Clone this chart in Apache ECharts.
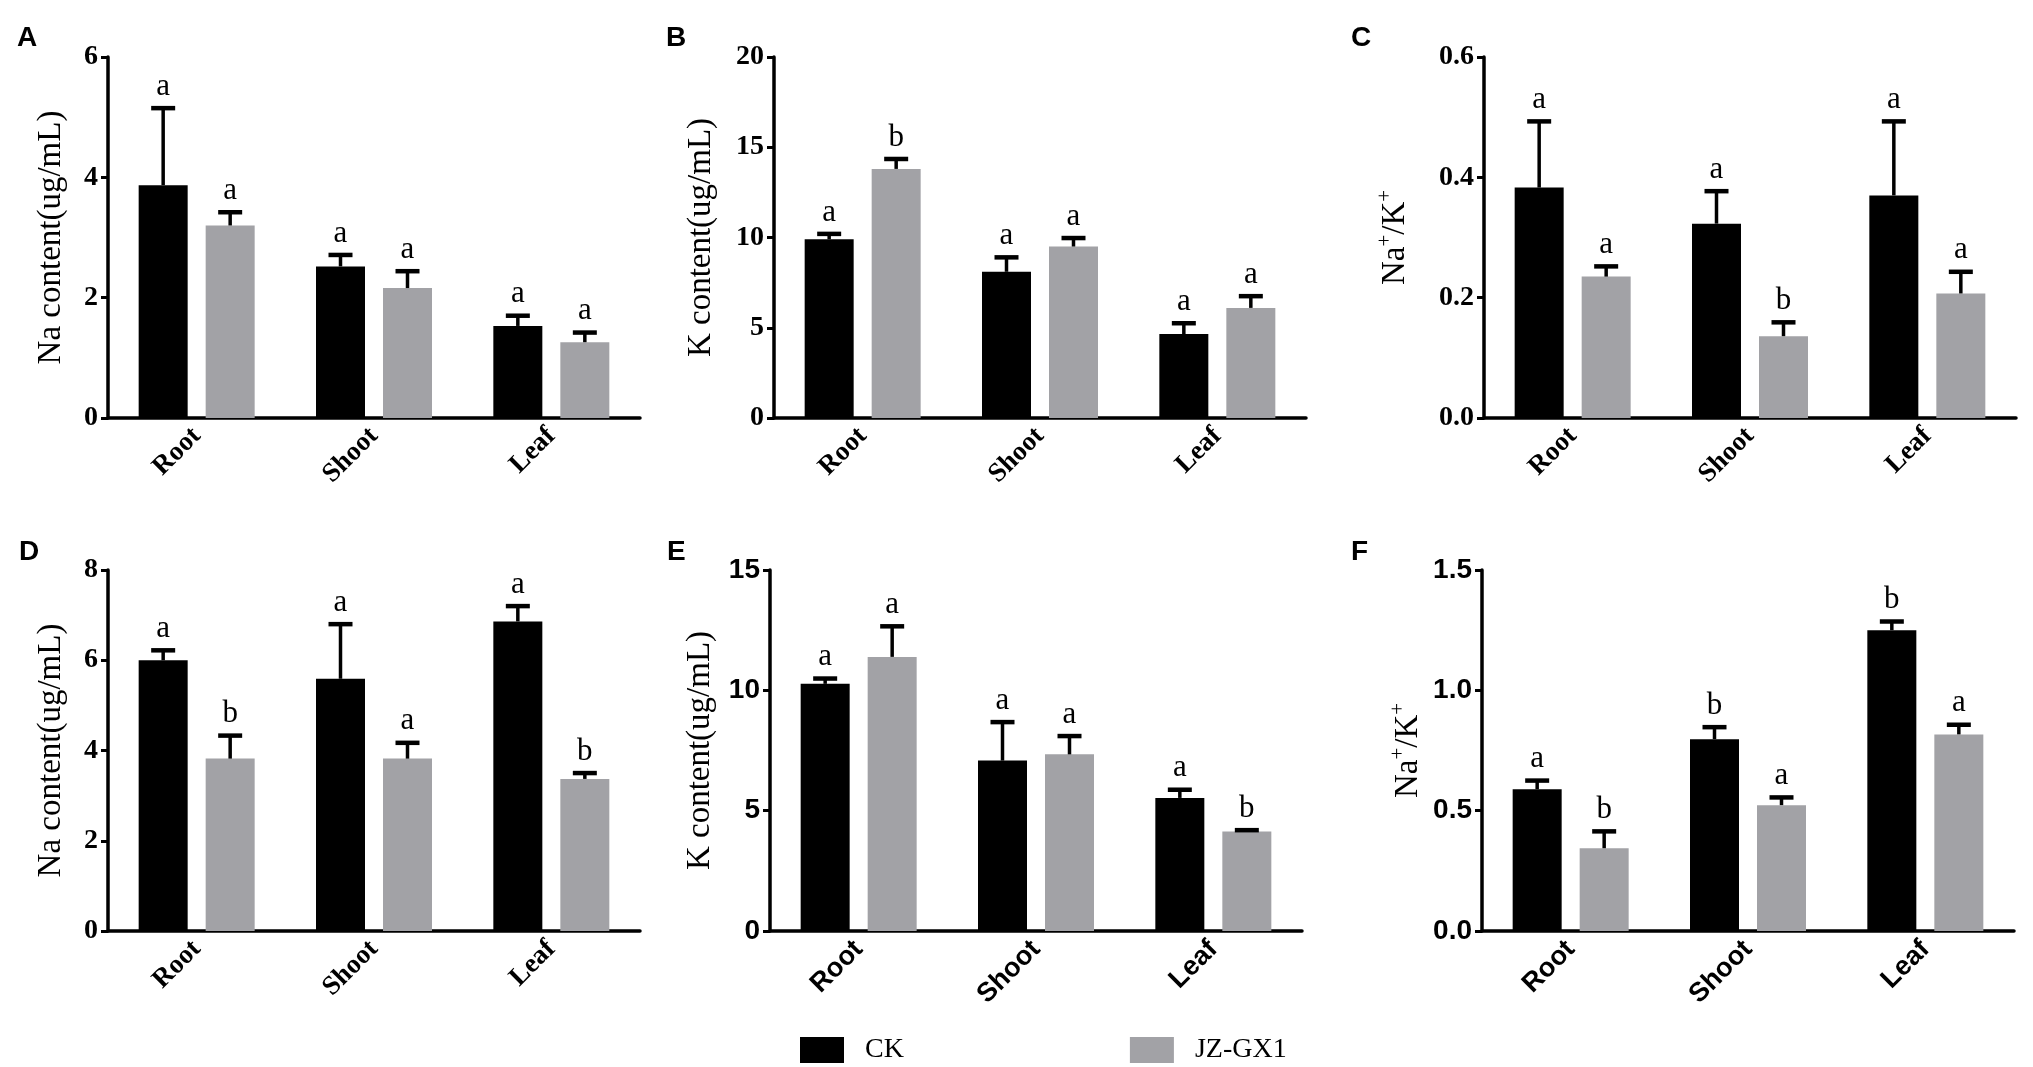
<html>
<head>
<meta charset="utf-8">
<title>Na/K content</title>
<script src="https://cdn.jsdelivr.net/npm/echarts@6/dist/echarts.min.js"></script>
<style>
  html, body { margin: 0; padding: 0; background: #fff; }
  #main { width: 2033px; height: 1067px; }
</style>
</head>
<body>
<div id="main"></div>
<script>
// categories and legend
var categories = ['Root', 'Shoot', 'Leaf'];
var groups = ['CK', 'JZ-GX1'];

// A: Na content, first condition
var aCK = [3.87, 2.52, 1.53];
var aCKsd = [1.28, 0.19, 0.17];
var aJZ = [3.20, 2.16, 1.26];
var aJZsd = [0.22, 0.28, 0.16];
var aCKlet = ['a', 'a', 'a'];
var aJZlet = ['a', 'a', 'a'];

// B: K content
var bCK = [9.9, 8.1, 4.65];
var bCKsd = [0.3, 0.8, 0.6];
var bJZ = [13.8, 9.5, 6.1];
var bJZsd = [0.55, 0.47, 0.65];
var bCKlet = ['a', 'a', 'a'];
var bJZlet = ['b', 'a', 'a'];

// C: Na+/K+
var cCK = [0.383, 0.323, 0.370];
var cCKsd = [0.110, 0.054, 0.123];
var cJZ = [0.235, 0.136, 0.207];
var cJZsd = [0.017, 0.023, 0.036];
var cCKlet = ['a', 'a', 'a'];
var cJZlet = ['a', 'b', 'a'];

// D: Na content, second condition
var dCK = [6.0, 5.59, 6.86];
var dCKsd = [0.22, 1.21, 0.34];
var dJZ = [3.82, 3.82, 3.37];
var dJZsd = [0.51, 0.35, 0.13];
var dCKlet = ['a', 'a', 'a'];
var dJZlet = ['b', 'a', 'b'];

// E: K content
var eCK = [10.27, 7.08, 5.53];
var eCKsd = [0.22, 1.6, 0.34];
var eJZ = [11.39, 7.34, 4.13];
var eJZsd = [1.27, 0.76, 0.06];
var eCKlet = ['a', 'a', 'a'];
var eJZlet = ['a', 'a', 'b'];

// F: Na+/K+
var fCK = [0.589, 0.797, 1.25];
var fCKsd = [0.036, 0.05, 0.036];
var fJZ = [0.344, 0.523, 0.817];
var fJZsd = [0.07, 0.032, 0.04];
var fCKlet = ['a', 'b', 'b'];
var fJZlet = ['b', 'a', 'a'];

var SERIF = 'Liberation Serif';
var SANS = 'Liberation Sans';
var BAR_W = 49;
var BAR_GAP = 18;
var OFFSET = (BAR_W + BAR_GAP) / 2;
var GRAY = '#a2a2a6';

var ratioName = '{n|Na}{s|+}{n|/K}{s|+}';

var panels = [
    {left: 108, top: 57, max: 6, interval: 2, dec: 0, font: SERIF, name: 'Na content(ug/mL)', gap: 40,
        ck: aCK, ckSd: aCKsd, jz: aJZ, jzSd: aJZsd, ckLet: aCKlet, jzLet: aJZlet},
    {left: 774, top: 57, max: 20, interval: 5, dec: 0, font: SERIF, name: 'K content(ug/mL)', gap: 56,
        ck: bCK, ckSd: bCKsd, jz: bJZ, jzSd: bJZsd, ckLet: bCKlet, jzLet: bJZlet},
    {left: 1484, top: 57, max: 0.6, interval: 0.2, dec: 1, font: SERIF, name: ratioName, gap: 72,
        ck: cCK, ckSd: cCKsd, jz: cJZ, jzSd: cJZsd, ckLet: cCKlet, jzLet: cJZlet},
    {left: 108, top: 570, max: 8, interval: 2, dec: 0, font: SERIF, name: 'Na content(ug/mL)', gap: 40,
        ck: dCK, ckSd: dCKsd, jz: dJZ, jzSd: dJZsd, ckLet: dCKlet, jzLet: dJZlet},
    {left: 770, top: 570, max: 15, interval: 5, dec: 0, font: SANS, name: 'K content(ug/mL)', gap: 53,
        ck: eCK, ckSd: eCKsd, jz: eJZ, jzSd: eJZsd, ckLet: eCKlet, jzLet: eJZlet},
    {left: 1482, top: 570, max: 1.5, interval: 0.5, dec: 1, font: SANS, name: ratioName, gap: 57,
        ck: fCK, ckSd: fCKsd, jz: fJZ, jzSd: fJZsd, ckLet: fCKlet, jzLet: fJZlet}
];

var grids = [], xAxes = [], yAxes = [], series = [];

function errRender(offset, letters) {
    return function (params, api) {
        var idx = api.value(0);
        var mean = api.value(1);
        var top = mean + api.value(2);
        var base = api.coord([idx, mean]);
        var tp = api.coord([idx, top]);
        var x = base[0] + offset;
        return {
            type: 'group',
            children: [
                {type: 'line', shape: {x1: x, y1: base[1], x2: x, y2: tp[1]},
                    style: {stroke: '#000', lineWidth: 3.5}},
                {type: 'line', shape: {x1: x - 12, y1: tp[1], x2: x + 12, y2: tp[1]},
                    style: {stroke: '#000', lineWidth: 4.5}},
                {type: 'text', x: x, y: tp[1] - 6,
                    style: {text: letters[params.dataIndex], fill: '#000',
                        font: '31px "' + SERIF + '"', textAlign: 'center', textVerticalAlign: 'bottom'}}
            ]
        };
    };
}

panels.forEach(function (p, i) {
    grids.push({left: p.left, top: p.top, width: 532, height: 361});
    xAxes.push({
        type: 'category', gridIndex: i, data: categories,
        axisLine: {lineStyle: {color: '#000', width: 3.5}},
        axisTick: {alignWithLabel: true, length: 9, lineStyle: {width: 3}},
        axisLabel: {rotate: 45, margin: 14, color: '#000', fontFamily: p.font, fontWeight: 'bold', fontSize: 27}
    });
    yAxes.push({
        type: 'value', gridIndex: i, min: 0, max: p.max, interval: p.interval,
        splitLine: {show: false},
        axisLine: {show: true, lineStyle: {color: '#000', width: 3.5}},
        axisTick: {show: true, length: 7, lineStyle: {width: 3}},
        axisLabel: {margin: 10, color: '#000', fontFamily: p.font, fontWeight: 'bold', fontSize: 28,
            formatter: function (v) { return v.toFixed(p.dec); }},
        name: p.name, nameLocation: 'middle', nameGap: p.gap, nameRotate: 90,
        nameTextStyle: {color: '#000', fontFamily: SERIF, fontSize: 33,
            rich: {
                n: {fontFamily: SERIF, fontSize: 33, color: '#000', verticalAlign: 'bottom'},
                s: {fontFamily: SERIF, fontSize: 21, color: '#000', verticalAlign: 'bottom', padding: [0, 0, 16, 0]}
            }}
    });
    series.push({
        name: 'CK', type: 'bar', xAxisIndex: i, yAxisIndex: i, data: p.ck,
        barWidth: BAR_W, barGap: (BAR_GAP / BAR_W * 100) + '%', itemStyle: {color: '#000'}
    });
    series.push({
        name: 'JZ-GX1', type: 'bar', xAxisIndex: i, yAxisIndex: i, data: p.jz,
        barWidth: BAR_W, barGap: (BAR_GAP / BAR_W * 100) + '%', itemStyle: {color: GRAY}
    });
    series.push({
        type: 'custom', xAxisIndex: i, yAxisIndex: i, z: 5, clip: false,
        renderItem: errRender(-OFFSET, p.ckLet),
        data: p.ck.map(function (v, k) { return [k, v, p.ckSd[k]]; })
    });
    series.push({
        type: 'custom', xAxisIndex: i, yAxisIndex: i, z: 5, clip: false,
        renderItem: errRender(OFFSET, p.jzLet),
        data: p.jz.map(function (v, k) { return [k, v, p.jzSd[k]]; })
    });
});

var letters = [['A', 17, 24], ['B', 666, 24], ['C', 1351, 24], ['D', 19, 538], ['E', 667, 538], ['F', 1351, 538]];

var chart = echarts.init(document.getElementById('main'));
chart.setOption({
    animation: false,
    backgroundColor: '#fff',
    grid: grids,
    xAxis: xAxes,
    yAxis: yAxes,
    series: series,
    legend: {
        data: groups, left: 795, top: 1031, icon: 'rect', itemWidth: 44, itemHeight: 26, itemGap: 226,
        textStyle: {color: '#000', fontFamily: SERIF, fontSize: 28, padding: [0, 0, 0, 16]}
    },
    graphic: letters.map(function (l) {
        return {type: 'text', left: l[1], top: l[2],
            style: {text: l[0], fill: '#000', font: 'bold 28px "' + SANS + '"'}};
    })
});
</script>
</body>
</html>
